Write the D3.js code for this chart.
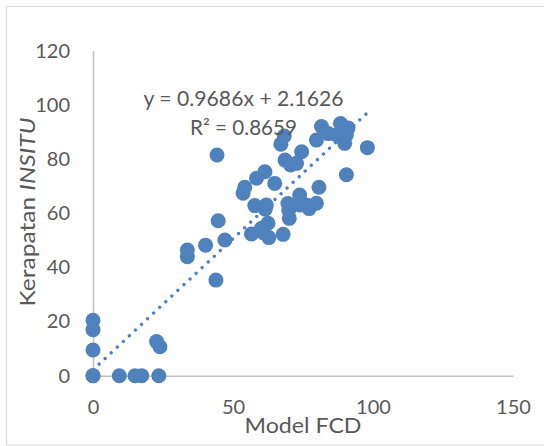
<!DOCTYPE html>
<html lang="en">
<head>
<meta charset="utf-8">
<title>Model FCD vs Kerapatan INSITU</title>
<script src="https://cdn.jsdelivr.net/npm/d3@7"></script>
<style>
  body { margin: 0; background: #fff; }
  text { font-family: Lato, "Open Sans", sans-serif; fill: #595959; }
</style>
</head>
<body>
<script>
// scatter data: Model FCD (x) vs Kerapatan INSITU (y)
var modelFCD = [0, 0, 0, 0, 0, 9.4, 15, 17.4, 23.5, 22.7, 23.9,
  33.7, 33.7, 40.2, 43.9, 44.3, 44.7, 47.1,
  53.6, 54.2, 56.6, 57.8, 58.4, 60.2, 60.8, 61.4, 61.9, 61.5, 62.5, 62.8, 64.9,
  67.1, 68.3, 67.9, 68.6, 69.6, 69.9, 70.1, 70.6, 72.7, 73.8, 74.5, 74, 76.2, 77.2, 79.8, 80.7,
  79.8, 81.6, 84, 86.9, 88.4, 91.1, 90.5, 89.9, 90.5, 98];
var kerapatan = [0, 0, 9.5, 17, 20.5, 0, 0, 0, 0, 12.6, 10.7,
  46.4, 43.9, 48.2, 35.3, 81.5, 57.2, 50.1,
  67.4, 69.6, 52.3, 62.8, 72.9, 54.4, 52.8, 75.3, 63, 61.5, 56.3, 51, 71,
  85.5, 88.5, 52.2, 79.6, 63.6, 61.1, 58.1, 77.8, 78.4, 66.7, 82.7, 63, 63, 61.7, 63.7, 69.6,
  87, 92, 89.4, 89, 93.1, 91.5, 89, 85.8, 74.2, 84.2];

var xTicks = [0, 50, 100, 150];
var yTicks = [0, 20, 40, 60, 80, 100, 120];

// linear trendline shown on the chart
var slope = 0.9686, intercept = 2.1626, r2 = 0.8659;

var w = 544, h = 446;
var blue = "#4f81bd", axisColor = "#bfbfbf";

var svg = d3.select("body").append("svg")
  .attr("width", w)
  .attr("height", h);

// chart border
svg.append("rect")
  .attr("x", 6.5).attr("y", 6.5)
  .attr("width", 560).attr("height", 438.5)
  .attr("fill", "none")
  .attr("stroke", "#d9d9d9");

var x = d3.scaleLinear().domain([0, 150]).range([93, 513]);
var y = d3.scaleLinear().domain([0, 120]).range([375.7, 50.7]);

// axes (no tick marks, just lines + labels)
var xAxis = svg.append("g")
  .attr("transform", "translate(0," + y(0) + ")")
  .call(d3.axisBottom(x).tickValues(xTicks).tickSize(0).tickPadding(24));
xAxis.select(".domain").attr("stroke", axisColor).attr("stroke-width", 1.5);
xAxis.selectAll("text").attr("font-size", "20px").attr("fill", "#595959");

var yAxis = svg.append("g")
  .attr("transform", "translate(" + x(0) + ",0)")
  .call(d3.axisLeft(y).tickValues(yTicks).tickSize(0).tickPadding(23));
yAxis.select(".domain").attr("stroke", axisColor).attr("stroke-width", 1.5);
yAxis.selectAll("text").attr("font-size", "20px").attr("fill", "#595959");

// trendline, dotted
var xMax = d3.max(modelFCD);
svg.append("line")
  .attr("x1", x(0)).attr("y1", y(intercept))
  .attr("x2", x(xMax)).attr("y2", y(slope * xMax + intercept))
  .attr("stroke", blue)
  .attr("stroke-width", 3.4)
  .attr("stroke-linecap", "round")
  .attr("stroke-dasharray", "0.01 8.3");

// points
var pts = modelFCD.map(function(d, i) { return [d, kerapatan[i]]; });
svg.selectAll("circle.pt")
  .data(pts)
  .enter()
  .append("circle")
  .attr("class", "pt")
  .attr("cx", function(d) { return x(d[0]); })
  .attr("cy", function(d) { return y(d[1]); })
  .attr("r", 7.5)
  .attr("fill", blue);

// equation + R²
svg.append("text")
  .attr("x", 143.5).attr("y", 106)
  .attr("font-size", "21px")
  .attr("textLength", 200).attr("lengthAdjust", "spacingAndGlyphs")
  .text("y = " + slope + "x + " + intercept);
svg.append("text")
  .attr("x", 190).attr("y", 135)
  .attr("font-size", "21px")
  .attr("textLength", 107).attr("lengthAdjust", "spacingAndGlyphs")
  .text("R² = " + r2);

// axis titles
svg.append("text")
  .attr("x", 303).attr("y", 433)
  .attr("text-anchor", "middle")
  .attr("font-size", "22px")
  .attr("textLength", 117).attr("lengthAdjust", "spacingAndGlyphs")
  .text("Model FCD");

var yt = svg.append("text")
  .attr("transform", "translate(35,212) rotate(-90)")
  .attr("text-anchor", "middle")
  .attr("font-size", "22px")
  .attr("textLength", 189).attr("lengthAdjust", "spacingAndGlyphs");
yt.append("tspan").text("Kerapatan ");
yt.append("tspan").attr("font-style", "italic").text("INSITU");
</script>
</body>
</html>
